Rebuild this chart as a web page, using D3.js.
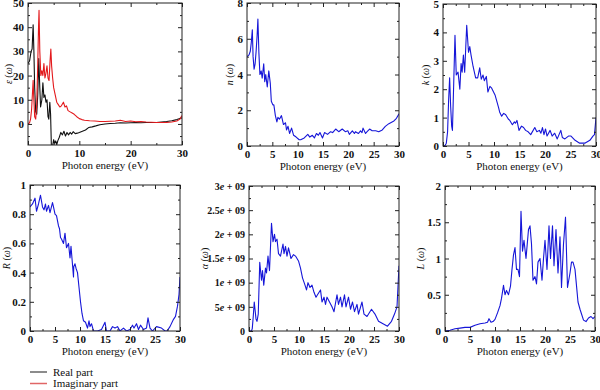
<!DOCTYPE html>
<html><head><meta charset="utf-8">
<script src="https://cdn.jsdelivr.net/npm/d3@7/dist/d3.min.js"></script>
<style>
body{margin:0;background:#fff;}
svg{display:block;}
svg text{font-family:"Liberation Serif","Times New Roman","DejaVu Serif",serif !important;}
</style></head>
<body><svg id="c" width="600" height="390"></svg>
<script>
// ---------- DATA (photon energy eV, value) ----------
const epsReal = [[0,25],[0.3,26],[0.6,30],[0.8,31],[1.0,41],[1.15,30],[1.3,15],[1.5,5],[1.7,4],[1.9,12],[2.1,27],[2.3,15],[2.45,7],[2.7,10],[2.9,17],[3.1,11],[3.3,12],[3.5,9],[3.7,10],[3.9,3],[4.05,2],[4.25,9],[4.4,4],[4.55,-9],[4.8,-9],[5.0,-6.5],[5.2,-8],[5.4,-7],[5.6,-8.5],[5.8,-7],[6.1,-5.5],[6.4,-3.5],[6.7,-4.5],[7.0,-3],[7.3,-5],[7.6,-3.5],[7.9,-4.5],[8.2,-3.5],[8.5,-4.2],[8.8,-3.2],[9.2,-4],[9.6,-3.8],[10,-3.5],[10.6,-3],[11.2,-2.5],[11.8,-1.5],[12.5,-1.2],[13.2,-0.8],[14,-0.3],[15,0],[16,0.2],[17,0.3],[18,0.5],[19,0.4],[20,0.5],[21,0.6],[22,0.5],[23,0.6],[24,0.6],[25,0.6],[26,0.8],[27,1.0],[28,1.3],[29,1.8],[29.6,2.3],[30,2.5]];
const epsImag = [[0,0],[0.3,0.5],[0.5,2],[0.7,6],[0.9,14],[1.0,18],[1.1,12],[1.3,3],[1.5,2],[1.7,8],[1.9,25],[2.05,40],[2.15,47],[2.3,30],[2.5,20],[2.7,22],[2.9,20],[3.1,25],[3.3,19],[3.5,21],[3.7,24],[3.9,19],[4.1,18],[4.3,26],[4.45,31],[4.6,24],[4.8,19],[5.0,15],[5.3,12],[5.6,9],[5.9,8],[6.2,7],[6.5,7.5],[6.9,9],[7.2,7],[7.5,7.5],[7.8,5.5],[8.2,5],[8.6,4.5],[9.0,4],[9.5,3],[10,2.2],[10.5,1.8],[11,1.5],[12,1.3],[13,1.2],[14,1.0],[15,1.0],[16,1.1],[17,1.2],[18,1.5],[19,1.0],[20,1.2],[21,0.9],[22,1.0],[23,0.8],[24,0.7],[25,0.6],[26,0.6],[27,0.6],[28,0.8],[29,1.2],[29.6,2],[30,3.5]];
const refrN = [[0,5.0],[0.4,5.1],[0.65,5.3],[0.85,5.8],[1.05,6.5],[1.2,5.0],[1.4,4.3],[1.6,4.6],[1.8,5.3],[2.0,6.2],[2.15,7.1],[2.35,5.2],[2.55,4.0],[2.8,4.2],[3.0,3.8],[3.3,4.6],[3.5,3.6],[3.7,4.0],[4.0,3.3],[4.3,4.2],[4.6,3.5],[4.8,2.5],[5.1,2.3],[5.3,2.3],[5.6,1.7],[5.9,1.35],[6.1,1.6],[6.4,1.5],[6.8,1.7],[7.2,1.2],[7.6,1.3],[7.8,0.9],[8.1,1.1],[8.4,0.7],[8.8,1.0],[9.2,0.6],[9.7,0.5],[10.3,0.35],[10.6,0.35],[11.3,0.45],[12.0,0.65],[12.4,0.5],[12.9,0.6],[13.3,0.45],[13.7,0.7],[14.1,0.6],[14.4,0.75],[14.9,0.45],[15.3,0.75],[15.9,0.65],[16.5,0.8],[16.9,0.75],[17.5,0.95],[18.1,0.8],[18.8,0.95],[19.4,0.8],[19.9,0.85],[20.2,0.65],[20.8,0.85],[21.2,0.7],[21.4,0.8],[22.0,0.7],[22.4,0.85],[22.7,0.75],[22.9,1.0],[23.4,0.7],[23.7,0.8],[24.2,0.95],[24.7,0.85],[25.4,0.85],[26.0,0.8],[26.7,0.9],[27.3,1.1],[28.0,1.25],[29.0,1.4],[29.5,1.55],[30,1.8]];
const extK = [[0,0],[0.4,0.02],[0.65,0.1],[0.9,0.5],[1.1,1.6],[1.3,2.4],[1.5,1.4],[1.7,0.7],[1.85,0.55],[2.1,2.2],[2.35,3.9],[2.6,2.5],[2.95,2.6],[3.3,2.0],[3.55,2.9],[3.75,2.6],[4.0,3.2],[4.25,2.6],[4.65,4.25],[5.0,3.3],[5.25,3.5],[5.5,3.2],[5.9,2.8],[6.4,2.4],[6.8,2.4],[7.2,2.75],[7.5,2.35],[7.85,2.5],[8.1,2.3],[8.5,2.45],[8.8,1.9],[9.2,2.1],[9.5,2.05],[10.2,1.8],[10.9,1.35],[11.1,1.2],[11.5,1.05],[11.9,1.15],[12.3,1.1],[12.8,0.95],[13.1,0.9],[13.6,0.75],[14.0,0.85],[14.2,0.8],[14.5,0.9],[14.9,0.55],[15.4,0.7],[15.8,0.65],[16.2,0.55],[16.7,0.5],[17.2,0.4],[18.0,0.65],[18.4,0.5],[18.9,0.55],[19.2,0.45],[19.5,0.65],[19.8,0.4],[20.1,0.6],[20.4,0.35],[21.0,0.55],[21.4,0.35],[21.9,0.45],[22.4,0.25],[23.1,0.55],[23.4,0.3],[23.9,0.25],[24.6,0.35],[25.1,0.35],[25.9,0.2],[26.8,0.1],[27.8,0.1],[28.8,0.2],[29.4,0.35],[29.7,0.4],[30,1.0]];
const reflR = [[0,0.85],[0.5,0.87],[1.0,0.91],[1.3,0.82],[1.7,0.87],[2.1,0.93],[2.5,0.85],[2.8,0.83],[3.1,0.87],[3.3,0.82],[3.7,0.86],[4.0,0.81],[4.5,0.88],[4.7,0.85],[5.0,0.8],[5.3,0.79],[5.7,0.72],[5.9,0.7],[6.1,0.64],[6.3,0.63],[6.7,0.6],[7.0,0.67],[7.3,0.57],[7.7,0.6],[8.0,0.5],[8.2,0.58],[8.7,0.37],[8.75,0.44],[9.0,0.46],[9.2,0.43],[9.5,0.4],[9.8,0.3],[10.1,0.2],[10.4,0.12],[10.7,0.07],[11.1,0.06],[11.5,0.02],[11.8,0.07],[12.0,0.03],[12.3,0.05],[12.7,0.0],[13.5,0.0],[14.3,0.01],[15.0,0.06],[15.3,0.0],[16.0,0.0],[16.5,0.03],[17.0,0.02],[17.5,0.03],[18.0,0.0],[18.7,0.02],[19.3,0.0],[20.0,0.01],[20.5,0.04],[20.8,0.02],[21.3,0.05],[21.7,0.01],[22.1,0.04],[22.7,0.01],[23.3,0.02],[23.6,0.09],[24.0,0.02],[24.5,0.0],[25.3,0.03],[26.3,0.02],[27.0,0.0],[27.4,0.0],[28.0,0.03],[28.7,0.08],[29.1,0.1],[29.5,0.17],[29.8,0.25],[30,0.37]];
const absA = [[0,0],[0.5,0],[0.65,0.05],[0.85,0.3],[1.05,0.6],[1.4,0.25],[1.6,0.2],[1.85,0.35],[2.15,1.42],[2.5,1.05],[2.7,1.25],[2.95,0.95],[3.3,1.3],[3.5,1.2],[3.8,1.55],[4.1,1.25],[4.5,2.23],[4.8,1.85],[5.1,2.0],[5.3,1.85],[5.6,1.9],[5.9,1.6],[6.3,1.55],[6.8,1.8],[7.0,1.6],[7.3,1.75],[7.6,1.55],[7.9,1.72],[8.4,1.5],[8.9,1.58],[9.3,1.55],[9.9,1.45],[10.3,1.3],[10.7,1.1],[11.2,0.95],[11.5,0.85],[11.8,1.0],[12.2,0.9],[12.6,0.95],[13.0,0.8],[13.4,0.7],[13.7,0.75],[14.3,0.85],[14.6,0.6],[15.0,0.7],[15.3,0.55],[15.6,0.7],[16.1,0.6],[16.6,0.5],[17.0,0.4],[17.6,0.75],[17.9,0.55],[18.3,0.7],[18.6,0.5],[19.1,0.75],[19.4,0.5],[19.9,0.7],[20.3,0.45],[20.7,0.6],[21.1,0.4],[21.6,0.55],[21.9,0.35],[22.6,0.6],[23.0,0.35],[23.6,0.3],[24.5,0.45],[25.2,0.35],[25.9,0.2],[26.8,0.15],[27.7,0.1],[28.5,0.2],[29.1,0.35],[29.6,0.5],[30,1.35]];
const lossL = [[0,0],[1,0.01],[2,0.03],[3,0.04],[4,0.05],[5,0.05],[6,0.08],[7,0.1],[8,0.11],[8.5,0.12],[8.8,0.17],[9.2,0.12],[9.6,0.13],[10,0.16],[10.5,0.25],[11,0.35],[11.3,0.45],[11.7,0.63],[12,0.5],[12.3,0.56],[12.7,0.5],[13.1,0.62],[13.4,0.85],[13.7,1.05],[14,1.15],[14.3,0.85],[14.6,0.85],[14.9,0.75],[15.2,1.65],[15.5,1.1],[15.8,1.25],[16.2,1.0],[16.7,1.4],[17.0,1.45],[17.3,1.2],[17.6,0.7],[18.0,0.75],[18.3,0.65],[18.6,0.95],[19.0,1.0],[19.4,0.7],[19.7,1.0],[20.0,1.25],[20.4,0.85],[20.8,1.45],[21.1,1.0],[21.5,1.45],[21.8,0.9],[22.2,1.4],[22.6,0.8],[23.0,1.3],[23.3,0.6],[23.7,1.2],[24.1,1.57],[24.5,0.6],[25.0,0.8],[25.3,0.95],[25.6,0.95],[26.0,0.85],[26.6,0.4],[27.0,0.3],[27.7,0.15],[28.2,0.13],[28.7,0.18],[29.2,0.2],[29.6,0.17],[30,0.2]];

const xTicksWide = [0,10,20,30];
const xTicks = [0,5,10,15,20,25,30];
const alphaTickLabels = ["0","5e + 09","1e + 09","1.5e + 09","2e + 09","2.5e + 09","3e + 09"];
const legendLabels = ["Real part","Imaginary part"];
const xTitle = "Photon energy (eV)";

// ---------- LAYOUT ----------
const svg = d3.select("#c");
const panels = [
  {l:28,r:182,t:3,b:145, yd:[-8.7,50], yMaj:d3.range(0,51,10), yMin:d3.range(-5,50,10), xMaj:xTicksWide, xMin:[5,15,25], title:"ε", series:[{d:epsReal,c:"#111"},{d:epsImag,c:"#e3191c"}], tx:8},
  {l:247,r:399,t:3,b:146, yd:[0,8], yMaj:[0,2,4,6,8], yMin:[1,3,5,7], xMaj:xTicks, xMin:d3.range(2.5,30,5), title:"n", series:[{d:refrN,c:"#1616d8"}], tx:229},
  {l:443,r:596,t:4,b:146, yd:[0,5], yMaj:[0,1,2,3,4,5], yMin:d3.range(0.5,5,1), xMaj:xTicks, xMin:d3.range(2.5,30,5), title:"k", series:[{d:extK,c:"#1616d8"}], tx:425},
  {l:30,r:180,t:185,b:331, yd:[0,1], yMaj:[0,0.2,0.4,0.6,0.8,1], yMin:[0.1,0.3,0.5,0.7,0.9], xMaj:xTicks, xMin:d3.range(2.5,30,5), title:"R", series:[{d:reflR,c:"#1616d8"}], tx:6},
  {l:249,r:399,t:186,b:331, yd:[0,3e9], yMaj:d3.range(0,3.01e9,5e8), yMin:d3.range(2.5e8,3e9,5e8), xMaj:xTicks, xMin:d3.range(2.5,30,5), title:"α", series:[{d:absA.map(p=>[p[0],p[1]*1e9]),c:"#1616d8"}], tx:204, alpha:true},
  {l:445,r:595,t:186,b:331, yd:[0,2], yMaj:[0,0.5,1,1.5,2], yMin:[0.25,0.75,1.25,1.75], xMaj:xTicks, xMin:d3.range(2.5,30,5), title:"L", series:[{d:lossL,c:"#1616d8"}], tx:420}
];

panels.forEach((p,i)=>{
  const x = d3.scaleLinear().domain([0,30]).range([p.l,p.r]);
  const y = d3.scaleLinear().domain(p.yd).range([p.b,p.t]);
  const g = svg.append("g");
  const cid = "clip"+i;
  svg.append("clipPath").attr("id",cid).append("rect").attr("x",p.l).attr("y",p.t).attr("width",p.r-p.l).attr("height",p.b-p.t);
  const line = d3.line().x(d=>x(d[0])).y(d=>y(d[1]));
  p.series.forEach(s=>{
    g.append("path").attr("d",line(s.d)).attr("fill","none").attr("stroke",s.c).attr("stroke-width",1.1).attr("stroke-linejoin","round").attr("clip-path",`url(#${cid})`);
  });
  const fmt = p.alpha ? ((d,k)=>alphaTickLabels[k]) : (d=>d3.format("~g")(d));
  const ax = (gen,tr,vals,size,labels)=>{
    const a = g.append("g").attr("transform",tr).call(gen.tickValues(vals).tickSize(size).tickPadding(4).tickFormat(labels?labels:()=>""));
    a.attr("font-family",null).attr("font-size",null);
    a.select(".domain").remove();
    a.selectAll("line").attr("stroke","#222");
    a.selectAll("text").attr("font-size",11).attr("font-weight","bold").attr("fill","#111");
    return a;
  };
  ax(d3.axisBottom(x),`translate(0,${p.b})`,p.xMaj,-4,d=>d3.format("~g")(d));
  ax(d3.axisBottom(x),`translate(0,${p.b})`,p.xMin,-2,null);
  ax(d3.axisTop(x),`translate(0,${p.t})`,p.xMaj,-4,null);
  ax(d3.axisTop(x),`translate(0,${p.t})`,p.xMin,-2,null);
  const ya = ax(d3.axisLeft(y),`translate(${p.l},0)`,p.yMaj,-4,fmt);
  if(p.alpha){ ya.selectAll("text").attr("font-size",10).each(function(){
      const t=d3.select(this); const s=t.text(); if(s.indexOf("e")<0) return;
      const parts=s.split("e"); t.text(null);
      t.append("tspan").text(parts[0]); t.append("tspan").attr("font-style","italic").text("e"); t.append("tspan").text(parts[1]);
  });}
  ax(d3.axisLeft(y),`translate(${p.l},0)`,p.yMin,-2,null);
  ax(d3.axisRight(y),`translate(${p.r},0)`,p.yMaj,-4,null);
  ax(d3.axisRight(y),`translate(${p.r},0)`,p.yMin,-2,null);
  g.append("rect").attr("x",p.l).attr("y",p.t).attr("width",p.r-p.l).attr("height",p.b-p.t).attr("fill","none").attr("stroke","#222").attr("stroke-width",1);
  g.append("text").attr("x",(p.l+p.r)/2).attr("y",p.b+24).attr("text-anchor","middle").attr("font-size",11).attr("fill","#111").text(xTitle);
  const yt = g.append("text").attr("transform",`translate(${p.tx},${(p.t+p.b)/2}) rotate(-90)`).attr("text-anchor","middle").attr("dy","0.35em").attr("font-size",10).attr("fill","#111");
  yt.append("tspan").attr("font-style","italic").text(p.title);
  yt.append("tspan").text(" (");
  yt.append("tspan").attr("font-style","italic").text("ω");
  yt.append("tspan").text(")");
});

// legend
const legColors = ["#666666","#e06666"];
legendLabels.forEach((t,i)=>{
  const yy = 372 + i*11.5;
  svg.append("line").attr("x1",30).attr("x2",47).attr("y1",yy).attr("y2",yy).attr("stroke",legColors[i]).attr("stroke-width",1.5);
  svg.append("text").attr("x",53).attr("y",yy).attr("dy","0.35em").attr("font-size",11).attr("fill","#111").text(t);
});
</script></body></html>
